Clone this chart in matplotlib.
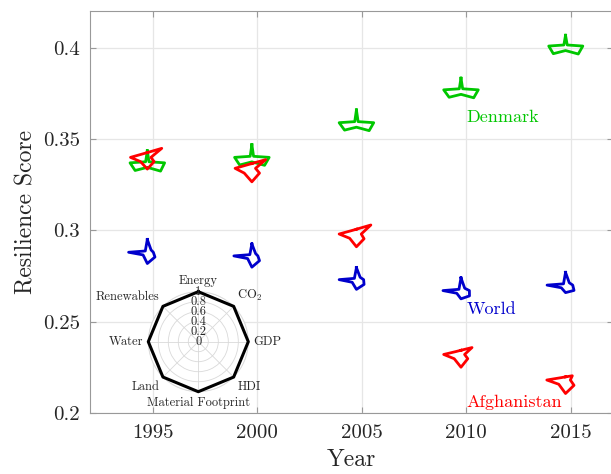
import numpy as np
import matplotlib
matplotlib.use('Agg')
import matplotlib.pyplot as plt

plt.rcParams['font.family'] = 'serif'
plt.rcParams['font.serif'] = ['cmr10', 'DejaVu Serif']
plt.rcParams['mathtext.fontset'] = 'cm'
plt.rcParams['axes.formatter.use_mathtext'] = True

# data
years = [1995, 2000, 2005, 2010, 2015]
indicators = ['Energy', r'CO$_2$', 'GDP', 'HDI', 'Material Footprint',
              'Land', 'Water', 'Renewables']

denmark_score = [0.337, 0.340, 0.359, 0.377, 0.401]
world_score = [0.288, 0.286, 0.273, 0.267, 0.270]
afghan_score = [0.340, 0.334, 0.298, 0.232, 0.218]

# glyph values per year: Energy, CO2, GDP, HDI, MF, Land, Water, Renewables
denmark_glyph = [
    [0.80, 0.10, 0.72, 0.78, 0.30, 0.72, 0.72, 0.10],
    [0.85, 0.10, 0.72, 0.75, 0.30, 0.72, 0.72, 0.10],
    [0.85, 0.10, 0.72, 0.75, 0.30, 0.70, 0.72, 0.10],
    [0.78, 0.10, 0.72, 0.75, 0.30, 0.70, 0.72, 0.10],
    [0.72, 0.10, 0.72, 0.75, 0.30, 0.72, 0.70, 0.10],
]
world_glyph = [
    [0.85, 0.22, 0.25, 0.45, 0.75, 0.25, 0.78, 0.12],
    [0.80, 0.22, 0.25, 0.45, 0.75, 0.25, 0.75, 0.12],
    [0.80, 0.22, 0.30, 0.45, 0.65, 0.25, 0.72, 0.12],
    [0.85, 0.22, 0.35, 0.50, 0.55, 0.25, 0.75, 0.12],
    [0.85, 0.22, 0.30, 0.50, 0.50, 0.25, 0.77, 0.12],
]
afghan_glyph = [
    [0.32, 0.85, 0.15, 0.40, 0.78, 0.40, 0.70, 0.31],
    [0.32, 0.82, 0.15, 0.45, 0.90, 0.45, 0.70, 0.31],
    [0.32, 0.85, 0.20, 0.45, 0.85, 0.40, 0.72, 0.31],
    [0.28, 0.65, 0.15, 0.40, 0.85, 0.40, 0.72, 0.28],
    [0.21, 0.40, 0.20, 0.50, 0.90, 0.40, 0.78, 0.23],
]

green = (0.0, 0.78, 0.0)
blue = (0.0, 0.0, 0.8)
red = (1.0, 0.0, 0.0)

fig_w, fig_h, dpi = 6.11, 4.74, 100
fig = plt.figure(figsize=(fig_w, fig_h), dpi=dpi)
pos = [0.147, 0.129, 0.8556, 0.847]
ax = fig.add_axes(pos)

xlim = (1992, 2017)
ylim = (0.2, 0.42)
ax.set_xlim(*xlim)
ax.set_ylim(*ylim)

# pixel -> data conversion for glyph size
px_x = (xlim[1] - xlim[0]) / (fig_w * dpi * pos[2])
px_y = (ylim[1] - ylim[0]) / (fig_h * dpi * pos[3])
rx, ry = 24, 15          # glyph radius in pixels (horizontal, vertical)
x_shift = -0.25          # glyphs sit slightly left of the year
theta = np.arange(8) * np.pi / 4


def draw_glyph(x0, y0, vals, color):
    v = np.array(vals)
    xs = x0 + v * np.sin(theta) * rx * px_x
    ys = y0 + v * np.cos(theta) * ry * px_y
    xs = np.append(xs, xs[0])
    ys = np.append(ys, ys[0])
    ax.plot(xs, ys, color=color, lw=2.0, solid_joinstyle='round', zorder=3)


for i, yr in enumerate(years):
    draw_glyph(yr + x_shift, denmark_score[i], denmark_glyph[i], green)
for i, yr in enumerate(years):
    draw_glyph(yr + x_shift, world_score[i], world_glyph[i], blue)
for i, yr in enumerate(years):
    draw_glyph(yr + x_shift, afghan_score[i], afghan_glyph[i], red)

ax.text(2010, 0.362, 'Denmark', color=green, fontsize=13, ha='left', va='center')
ax.text(2010, 0.2565, 'World', color=blue, fontsize=13, ha='left', va='center')
ax.text(2010, 0.2056, 'Afghanistan', color=red, fontsize=13, ha='left', va='center')

ax.set_xticks(years)
ax.set_xticklabels([str(y) for y in years])
yticks = [0.2, 0.25, 0.3, 0.35, 0.4]
ax.set_yticks(yticks)
ax.set_yticklabels(['0.2', '0.25', '0.3', '0.35', '0.4'])
ax.tick_params(direction='in', length=4, top=True, right=True,
               labelsize=15, colors='0.6', labelcolor='0.15')
ax.tick_params(axis='x', pad=8)
ax.tick_params(axis='y', pad=7)
ax.grid(True, color='0.9', lw=0.9)
ax.set_axisbelow(True)
for s in ax.spines.values():
    s.set_color('0.6')
ax.set_xlabel('Year', fontsize=17, color='0.15', labelpad=5)
ax.set_ylabel('Resilience Score', fontsize=17, color='0.15', labelpad=4)

# legend radar
pax = fig.add_axes([0.2427, 0.1736, 0.1637, 0.211], projection='polar')
pax.set_theta_zero_location('N')
pax.set_theta_direction(-1)
pax.set_ylim(0, 1)
rticks = [0, 0.2, 0.4, 0.6, 0.8, 1]
pax.set_yticks(rticks)
pax.set_yticklabels([])
pax.set_xticks(theta)
pax.set_xticklabels([])
pax.grid(True, color='0.85', lw=0.6)
pax.spines['polar'].set_color('0.85')
pax.spines['polar'].set_linewidth(0.6)
ones = np.ones(9)
pax.plot(np.append(theta, theta[0]), ones, color='black', lw=2.2, clip_on=False, zorder=3)
for r in rticks:
    pax.text(0, r, '{:g}'.format(r), fontsize=9, ha='center', va='center', color='0.15', zorder=4)
for t, lab in zip(theta, indicators):
    s, c = np.sin(t), np.cos(t)
    ha = 'left' if s > 0.1 else ('right' if s < -0.1 else 'center')
    va = 'bottom' if c > 0.1 else ('top' if c < -0.1 else 'center')
    pax.text(t, 1.1, lab, fontsize=9, ha=ha, va=va, color='0.15')

fig.savefig('out.png', dpi=dpi)
